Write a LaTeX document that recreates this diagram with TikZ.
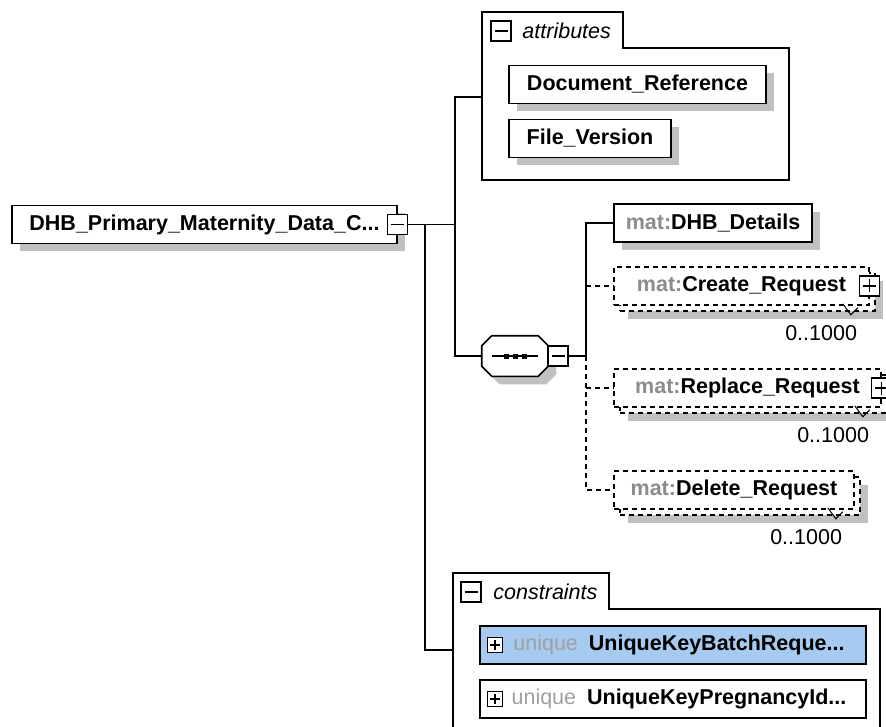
\documentclass[tikz,border=0pt]{standalone}
\usepackage{fontspec}
\setmainfont{Liberation Sans}
\usetikzlibrary{shadows}

\definecolor{prefixgray}{HTML}{8C8C8C}
\definecolor{uniquegray}{HTML}{A0A0A0}
\definecolor{shadowgray}{HTML}{C0C0C0}
\definecolor{selectblue}{HTML}{A6CAF0}

\newcommand{\xsdfont}{\fontsize{21.5}{25}\selectfont}

\begin{document}
\begin{tikzpicture}[x=1pt, y=-1pt, line width=1.6pt,
    elem/.style={draw, fill=white, minimum height=38pt, inner xsep=10pt, inner ysep=0pt,
      font=\xsdfont\bfseries,
      general shadow={draw=none, fill=shadowgray, shadow xshift=8pt, shadow yshift=-8pt}},
    optelem/.style={draw, fill=white, minimum height=38pt, inner xsep=10pt, inner ysep=0pt,
      font=\xsdfont\bfseries, dash pattern=on 5pt off 4pt,
      general shadow={draw=none, fill=shadowgray, shadow xshift=14pt, shadow yshift=-14pt},
      general shadow={draw, fill=white, line width=1.6pt, dash pattern=on 5pt off 4pt,
        shadow xshift=6pt, shadow yshift=-6pt}},
    keybox/.style={draw, fill=white, minimum width=386pt, minimum height=38pt,
      inner xsep=8pt, inner ysep=0pt, font=\xsdfont\bfseries},
    group/.style={draw, fill=white, line width=1.5pt},
    grouplabel/.style={font=\xsdfont\itshape, inner sep=0pt, anchor=west},
    occurs/.style={font=\xsdfont, inner sep=0pt, anchor=east},
    optline/.style={dash pattern=on 5pt off 4pt},
    tick/.style={line width=1pt},
    minusicon/.style={draw, fill=white, solid, line width=1.3pt, minimum size=20pt, inner sep=0pt,
      path picture={\draw[line width=1.3pt] ([xshift=-6.5pt]path picture bounding box.center)
        -- ([xshift=6.5pt]path picture bounding box.center);}},
    plusicon/.style={draw, fill=white, solid, line width=1.3pt, minimum size=20pt, inner sep=0pt,
      path picture={\draw[line width=1.3pt] ([xshift=-6.5pt]path picture bounding box.center)
        -- ([xshift=6.5pt]path picture bounding box.center)
        ([yshift=-6.5pt]path picture bounding box.center)
        -- ([yshift=6.5pt]path picture bounding box.center);}},
    smallplus/.style={draw, fill=white, line width=1.3pt, minimum size=15pt, inner sep=0pt,
      path picture={\draw[line width=1.3pt] ([xshift=-5pt]path picture bounding box.center)
        -- ([xshift=5pt]path picture bounding box.center)
        ([yshift=-5pt]path picture bounding box.center)
        -- ([yshift=5pt]path picture bounding box.center);}},
    seqbox/.style={minimum width=65pt, minimum height=39pt, inner sep=0pt},
    seqshape/.style={draw, fill=white,
      general shadow={draw=none, fill=shadowgray, shadow xshift=8pt, shadow yshift=-8pt}}]

  \useasboundingbox (0,0) rectangle (886,727);
  \clip (0,0) rectangle (886,727);

  % attributes group
  \draw[group] (482,12) -- (623,12) -- (623,48) -- (789,48) -- (789,180) -- (482,180) -- cycle;
  \node[minusicon] (attricon) at (501,31) {};
  \node[grouplabel] (attrlabel) at ([xshift=10pt]attricon.east) {attributes};
  \coordinate (attrL) at (482,97);
  \node[elem, minimum width=257pt] (docref) at (637.5,84.5) {Document\_Reference};
  \node[elem, minimum width=162pt] (filever) at (590,138.5) {File\_Version};

  % constraints group
  \draw[group] (453,573) -- (609,573) -- (609,609) -- (880,609) -- (880,740) -- (453,740) -- cycle;
  \node[minusicon] (consicon) at (471,592) {};
  \node[grouplabel] (conslabel) at ([xshift=11pt]consicon.east) {constraints};
  \coordinate (consL) at (453,650);
  \node[keybox, fill=selectblue] (batchkey) at (673,645)
    {\hspace*{12pt}\textcolor{uniquegray}{\mdseries unique}\hspace{5pt} UniqueKeyBatchReque...};
  \node[smallplus] (batchicon) at (495,645) {};
  \node[keybox] (pregkey) at (673,699)
    {\hspace*{12pt}\textcolor{uniquegray}{\mdseries unique}\hspace{5pt} UniqueKeyPregnancyId...};
  \node[smallplus] (pregicon) at (495,699) {};

  % root element
  \node[elem, minimum width=385pt] (root) at (204.5,224.5) {DHB\_Primary\_Maternity\_Data\_C...};
  \node[minusicon] (rooticon) at (root.east) {};

  % sequence
  \node[seqbox] (seq) at (515,356) {};
  \path[seqshape] ([xshift=10pt]seq.north west) -- ([xshift=-10pt]seq.north east)
    -- ([yshift=-10pt]seq.north east) -- ([yshift=10pt]seq.south east)
    -- ([xshift=-10pt]seq.south east) -- ([xshift=10pt]seq.south west)
    -- ([yshift=10pt]seq.south west) -- ([yshift=-10pt]seq.north west) -- cycle;
  \draw[line width=1.3pt] ([xshift=-23pt]seq.center) -- ([xshift=23pt]seq.center);
  \foreach \dx in {-9,0,9}
    \fill ([xshift=\dx pt]seq.center) ++(-2.5,-2.5) rectangle ++(5,5);
  \node[minusicon] (seqicon) at (558,356) {};

  % children
  \node[elem, minimum width=198pt] (details) at (713,223) {\textcolor{prefixgray}{mat:}DHB\_Details};
  \node[optelem, minimum width=255pt] (create) at (741.5,286) {\textcolor{prefixgray}{mat:}Create\_Request};
  \node[plusicon] (createicon) at (create.east) {};
  \node[optelem, minimum width=267pt] (replace) at (747.5,388) {\textcolor{prefixgray}{mat:}Replace\_Request};
  \node[plusicon] (replaceicon) at (replace.east) {};
  \node[optelem, minimum width=240pt] (delete) at (734,490) {\textcolor{prefixgray}{mat:}Delete\_Request};

  % occurrences
  \node[occurs] (createocc) at ([xshift=-12pt,yshift=-27pt]create.south east) {0..1000};
  \node[occurs] (replaceocc) at ([xshift=-12pt,yshift=-27pt]replace.south east) {0..1000};
  \node[occurs] (deleteocc) at ([xshift=-12pt,yshift=-27pt]delete.south east) {0..1000};
  \foreach \n in {create,replace,delete}
    \draw[tick] ([xshift=-27pt,yshift=2pt]\n.south east) -- ++(8,11) -- ++(7,-7);

  % connectors
  \coordinate (spine) at (455,224.5);
  \coordinate (drop) at (425,224.5);
  \coordinate (fork) at (586,356);
  \draw (rooticon.east) -- (spine);
  \draw (attrL) -| (spine) |- (seq.west);
  \draw (drop) |- (consL);
  \draw (seqicon.east) -- (fork) |- (details.west);
  \draw[optline] (fork) |- (delete.west);
  \draw[optline] (fork |- create.west) -- (create.west);
  \draw[optline] (fork |- replace.west) -- (replace.west);

\end{tikzpicture}
\end{document}
